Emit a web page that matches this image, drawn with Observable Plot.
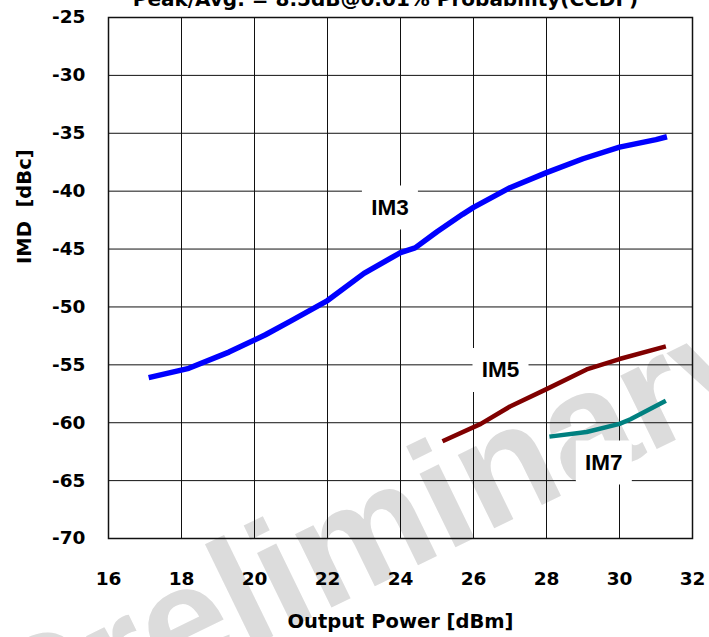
<!DOCTYPE html>
<html>
<head>
<meta charset="utf-8">
<script src="https://cdn.jsdelivr.net/npm/d3@7"></script>
<script src="https://cdn.jsdelivr.net/npm/@observablehq/plot@0.6"></script>
<style>
  body { margin: 0; background: white; }
</style>
</head>
<body>
<div id="chart"></div>
<script>
const title = "Peak/Avg. = 8.5dB@0.01% Probability(CCDF)";
const xLabel = "Output Power [dBm]";
const yLabel = "IMD\u00a0 [dBc]";
const watermark = "Preliminary";

const xTicks = [16, 18, 20, 22, 24, 26, 28, 30, 32];
const yTicks = [-70, -65, -60, -55, -50, -45, -40, -35, -30, -25];

const im3Power = [17.1, 18.2, 19.3, 20.3, 21.0, 22.0, 23.0, 24.0, 24.4, 25.0, 25.7, 26.0, 27.0, 28.0, 29.0, 30.0, 31.0, 31.3];
const im3Imd   = [-56.1, -55.3, -53.9, -52.4, -51.2, -49.45, -47.1, -45.3, -44.9, -43.5, -42.0, -41.4, -39.7, -38.4, -37.2, -36.2, -35.55, -35.3];

const im5Power = [25.15, 26.2, 27.0, 28.0, 29.1, 30.0, 31.27];
const im5Imd   = [-61.6, -60.1, -58.6, -57.1, -55.4, -54.5, -53.4];

const im7Power = [28.08, 29.1, 30.0, 30.3, 31.27];
const im7Imd   = [-61.2, -60.8, -60.1, -59.7, -58.1];

const seriesNames = ["IM3", "IM5", "IM7"];
const labelPower = [23.71, 26.74, 29.57];
const labelImd   = [-41.4, -55.45, -63.43];

const toRows = (xs, ys) => xs.map((x, i) => ({x, y: ys[i]}));
const im3 = toRows(im3Power, im3Imd);
const im5 = toRows(im5Power, im5Imd);
const im7 = toRows(im7Power, im7Imd);
const labels = seriesNames.map((t, i) => ({text: t, x: labelPower[i], y: labelImd[i]}));

const axisFont = "DejaVu Sans, Liberation Sans, sans-serif";
const labelFont = "Liberation Sans, Arial, sans-serif";

// white rectangular mask behind the in-plot series labels
const labelBox = {draw(context) { context.rect(-28, -22, 56, 44); }};

const chart = Plot.plot({
  width: 709,
  height: 637,
  marginTop: 17,
  marginRight: 17,
  marginBottom: 99,
  marginLeft: 108,
  style: {
    fontFamily: axisFont,
    fontSize: "18.5px",
    fontWeight: "bold",
    color: "black",
    background: "white",
    overflow: "hidden"
  },
  x: {domain: [16, 32], ticks: xTicks, tickSize: 0, tickPadding: 33.5, tickFormat: d => String(d), label: null},
  y: {domain: [-70, -25], ticks: yTicks, tickSize: 0, tickPadding: 23, tickFormat: d => String(d), label: null},
  marks: [
    Plot.text([watermark], {frameAnchor: "middle", lineAnchor: "middle", dx: -23, dy: 252, rotate: -26, fontSize: 155, fontFamily: labelFont, fontWeight: "bold", fill: "#dcdcdc"}),
    Plot.ruleX(xTicks, {stroke: "#111", strokeWidth: 1}),
    Plot.ruleY(yTicks, {stroke: "#111", strokeWidth: 1}),
    Plot.frame({stroke: "#111", strokeWidth: 1.5}),
    Plot.dot(labels, {x: "x", y: "y", symbol: labelBox, r: 10, fill: "white", stroke: null}),
    Plot.text(labels, {x: "x", y: "y", text: "text", fontSize: 22.5, fontFamily: labelFont, fontWeight: "bold", fill: "black"}),
    Plot.line(im3, {x: "x", y: "y", stroke: "#0000ff", strokeWidth: 5.5, strokeLinecap: "butt", curve: "linear"}),
    Plot.line(im5, {x: "x", y: "y", stroke: "#800000", strokeWidth: 4.5, strokeLinecap: "butt", curve: "linear"}),
    Plot.line(im7, {x: "x", y: "y", stroke: "#008080", strokeWidth: 4.5, strokeLinecap: "butt", curve: "linear"}),
    Plot.text([xLabel], {frameAnchor: "bottom", lineAnchor: "middle", dy: 82.8, fontSize: 19.5, fontFamily: axisFont, fontWeight: "bold", fill: "black"}),
    Plot.text([yLabel], {frameAnchor: "left", lineAnchor: "middle", dx: -84, dy: -14, rotate: -90, fontSize: 19.5, fontFamily: axisFont, fontWeight: "bold", fill: "black"}),
    Plot.text([title], {frameAnchor: "top", lineAnchor: "middle", dx: -15, dy: -18.4, fontSize: 20, fontFamily: axisFont, fontWeight: "bold", fill: "black"})
  ]
});

// send the watermark behind the axes (first text mark in the SVG)
const wm = chart.querySelector('g[aria-label="text"]');
const styleEl = chart.querySelector("style");
if (wm) chart.insertBefore(wm, styleEl ? styleEl.nextSibling : chart.firstChild);

document.getElementById("chart").appendChild(chart);
</script>
</body>
</html>
